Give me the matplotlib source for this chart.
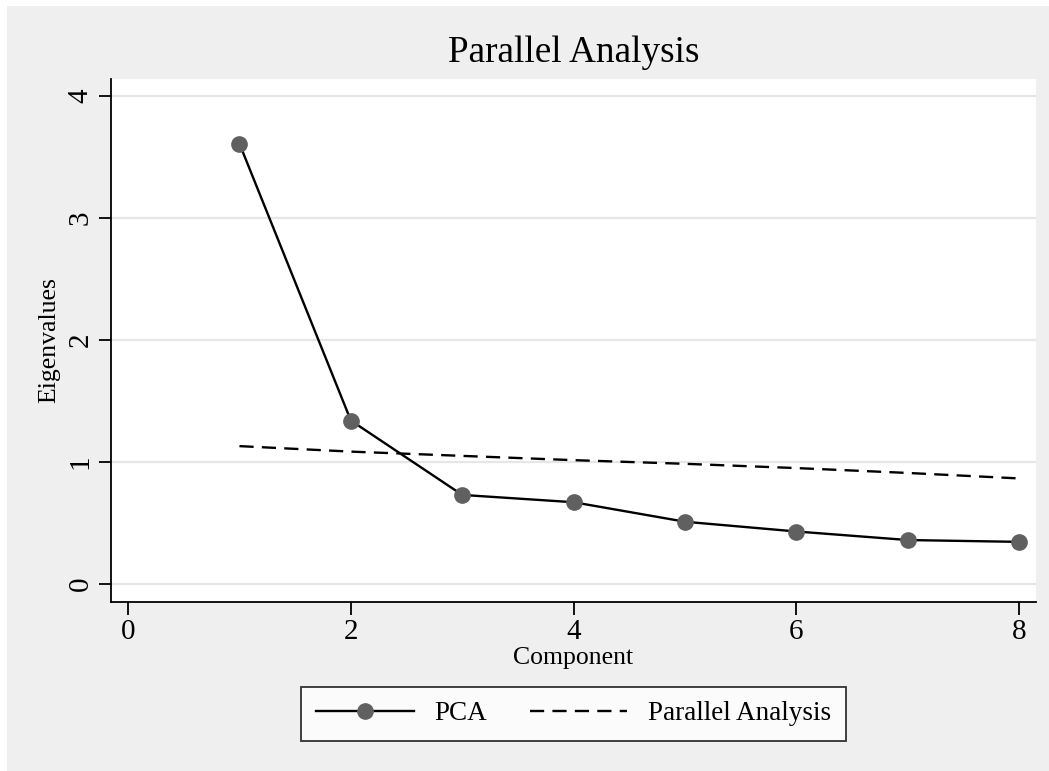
import matplotlib
matplotlib.use('Agg')
import matplotlib.pyplot as plt
from matplotlib.patches import Rectangle

plt.rcParams.update({'font.family': ['Liberation Serif', 'DejaVu Serif']})

# data
component = [1, 2, 3, 4, 5, 6, 7, 8]
pca = [3.61, 1.34, 0.73, 0.67, 0.51, 0.43, 0.36, 0.345]
parallel = [1.13, 1.085, 1.05, 1.015, 0.985, 0.95, 0.91, 0.865]
yticks = [0, 1, 2, 3, 4]
xticks = [0, 2, 4, 6, 8]

W, H = 1049, 771
fig = plt.figure(figsize=(W / 100, H / 100), dpi=100, facecolor='white')
# grey graph region (Stata-like), white strip at top/left
fig.patches.append(Rectangle((7 / W, 0), 1, 1 - 6 / H, transform=fig.transFigure,
                             facecolor='#efefef', edgecolor='none', zorder=-10))

ax = fig.add_axes([111 / W, 1 - 602 / H, (1036 - 111) / W, (602 - 79) / H])
ax.set_facecolor('white')

for y in yticks:
    ax.axhline(y, color='#e6e6e6', lw=1.6, zorder=0)

ax.plot(component, pca, '-', color='black', lw=1.7, marker='o', ms=11,
        mfc='#606060', mec='#606060', label='PCA', zorder=3)
ax.plot(component, parallel, '--', color='black', lw=1.7, dashes=(6, 3.5),
        label='Parallel Analysis', zorder=2)

ax.set_xlim(-0.153, 8.15)
ax.set_ylim(-0.148, 4.14)
ax.set_xticks(xticks)
ax.set_yticks(yticks)
for s in ['top', 'right']:
    ax.spines[s].set_visible(False)
for s in ['left', 'bottom']:
    ax.spines[s].set_linewidth(1.3)
ax.tick_params(axis='both', direction='out', length=9, width=1.3, labelsize=21)
ax.tick_params(axis='x', pad=3)
for lab in ax.get_yticklabels():
    lab.set_rotation(90)
    lab.set_va('center')

ax.set_xlabel('Component', fontsize=18.5, labelpad=2)
ax.set_ylabel('Eigenvalues', fontsize=18.5, labelpad=5)
ax.set_title('Parallel Analysis', fontsize=26.8, pad=12)

leg = ax.legend(loc='center', bbox_to_anchor=(0.5, -0.214), ncol=2,
                fontsize=19.5, frameon=True, fancybox=False, edgecolor='black',
                handlelength=3.6, columnspacing=1.6, borderpad=0.55,
                handletextpad=0.75)
leg.get_frame().set_linewidth(1.3)

fig.savefig('out.png', dpi=100, facecolor=fig.get_facecolor())
